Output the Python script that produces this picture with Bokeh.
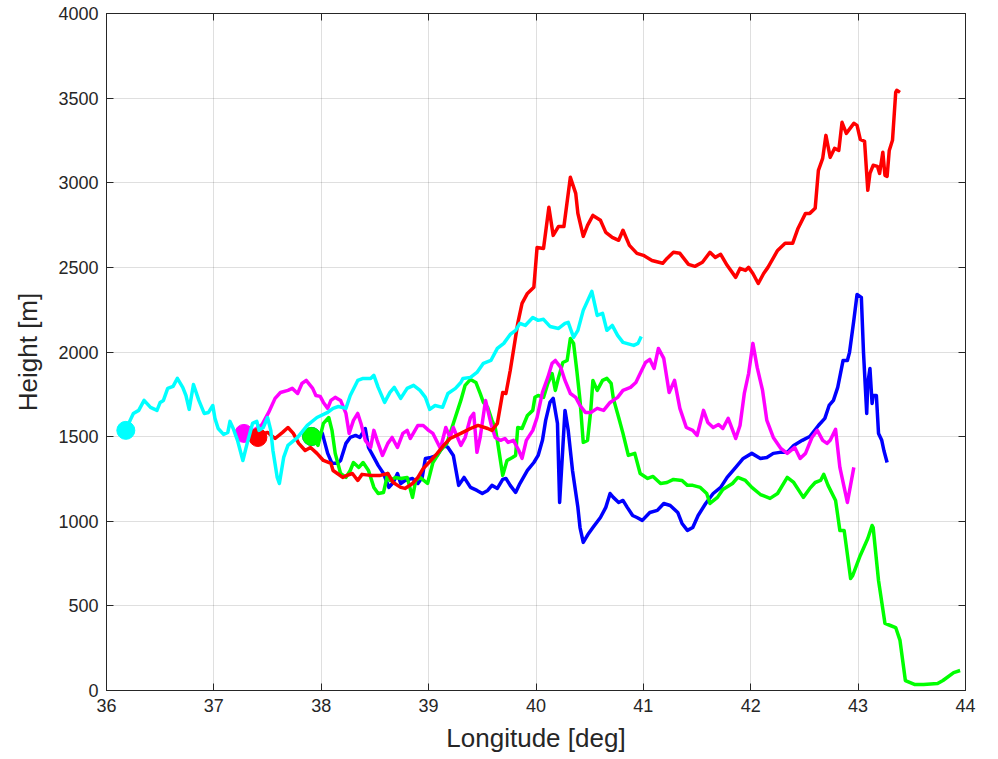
from bokeh.plotting import figure
from bokeh.models import LinearAxis, FixedTicker
from bokeh.embed import file_html
from bokeh.resources import INLINE

# ---- data ----
cyan_lon = [36.18, 36.22, 36.25, 36.30, 36.35, 36.41, 36.47, 36.50, 36.53, 36.57, 36.62, 36.66, 36.71, 36.74, 36.77, 36.81, 36.86, 36.91, 36.95, 36.99, 37.01, 37.04, 37.09, 37.13, 37.15, 37.18, 37.22, 37.27, 37.31, 37.36, 37.40, 37.42, 37.46, 37.50, 37.53, 37.55, 37.59, 37.61, 37.65, 37.69, 37.78, 37.87, 37.96, 38.06, 38.11, 38.16, 38.23, 38.27, 38.34, 38.39, 38.46, 38.49, 38.53, 38.59, 38.64, 38.68, 38.74, 38.80, 38.86, 38.92, 38.97, 39.01, 39.06, 39.13, 39.18, 39.25, 39.30, 39.32, 39.39, 39.45, 39.51, 39.58, 39.64, 39.70, 39.76, 39.81, 39.85, 39.90, 39.97, 40.02, 40.07, 40.13, 40.21, 40.27, 40.30, 40.35, 40.39, 40.44, 40.52, 40.57, 40.62, 40.66, 40.71, 40.76, 40.81, 40.91, 40.95, 40.98]
cyan_h = [1537, 1596, 1637, 1655, 1714, 1673, 1655, 1702, 1714, 1785, 1797, 1844, 1791, 1743, 1661, 1808, 1714, 1637, 1643, 1684, 1608, 1548, 1513, 1525, 1590, 1548, 1478, 1359, 1460, 1578, 1590, 1537, 1554, 1613, 1537, 1418, 1259, 1223, 1377, 1448, 1495, 1566, 1613, 1643, 1667, 1678, 1667, 1743, 1832, 1844, 1844, 1862, 1791, 1702, 1761, 1791, 1726, 1785, 1803, 1773, 1732, 1661, 1684, 1673, 1755, 1785, 1820, 1844, 1850, 1879, 1933, 1950, 2021, 2051, 2104, 2128, 2169, 2157, 2204, 2187, 2193, 2151, 2139, 2169, 2175, 2086, 2128, 2246, 2358, 2216, 2228, 2128, 2157, 2098, 2057, 2039, 2051, 2092]

red_lon = [37.41, 37.46, 37.50, 37.57, 37.64, 37.69, 37.74, 37.79, 37.85, 37.90, 37.96, 38.02, 38.09, 38.11, 38.15, 38.20, 38.24, 38.29, 38.34, 38.38, 38.46, 38.55, 38.62, 38.67, 38.74, 38.78, 38.85, 38.90, 38.95, 39.02, 39.08, 39.14, 39.20, 39.30, 39.39, 39.46, 39.55, 39.59, 39.64, 39.69, 39.72, 39.76, 39.79, 39.83, 39.87, 39.92, 39.98, 40.01, 40.07, 40.12, 40.16, 40.21, 40.26, 40.32, 40.37, 40.39, 40.44, 40.48, 40.53, 40.60, 40.65, 40.71, 40.77, 40.81, 40.87, 40.94, 41.00, 41.08, 41.18, 41.22, 41.28, 41.34, 41.42, 41.48, 41.55, 41.62, 41.67, 41.72, 41.78, 41.86, 41.90, 41.95, 41.98, 42.02, 42.07, 42.12, 42.16, 42.25, 42.32, 42.39, 42.44, 42.51, 42.55, 42.60, 42.63, 42.67, 42.70, 42.74, 42.78, 42.82, 42.85, 42.89, 42.96, 42.99, 43.02, 43.06, 43.09, 43.11, 43.14, 43.18, 43.20, 43.23, 43.25, 43.27, 43.29, 43.32, 43.35, 43.36, 43.39]
red_h = [1495, 1519, 1525, 1489, 1525, 1554, 1519, 1460, 1418, 1436, 1401, 1359, 1342, 1300, 1282, 1259, 1271, 1282, 1241, 1277, 1271, 1271, 1282, 1229, 1200, 1194, 1223, 1259, 1312, 1359, 1401, 1448, 1489, 1519, 1548, 1566, 1548, 1537, 1578, 1761, 1755, 1891, 2009, 2169, 2287, 2346, 2382, 2618, 2612, 2855, 2689, 2742, 2742, 3032, 2937, 2819, 2683, 2748, 2807, 2778, 2707, 2677, 2660, 2719, 2630, 2583, 2571, 2541, 2524, 2553, 2589, 2583, 2518, 2506, 2530, 2589, 2559, 2577, 2512, 2441, 2494, 2482, 2500, 2464, 2405, 2464, 2500, 2600, 2642, 2642, 2730, 2819, 2819, 2849, 3073, 3144, 3280, 3150, 3203, 3191, 3357, 3292, 3351, 3339, 3256, 3245, 2955, 3055, 3103, 3097, 3055, 3180, 3044, 3038, 3191, 3251, 3534, 3546, 3534]

magenta_lon = [37.28, 37.37, 37.45, 37.51, 37.57, 37.62, 37.69, 37.73, 37.78, 37.82, 37.86, 37.92, 37.95, 37.99, 38.02, 38.06, 38.09, 38.13, 38.18, 38.23, 38.26, 38.30, 38.34, 38.37, 38.41, 38.46, 38.49, 38.52, 38.57, 38.62, 38.66, 38.71, 38.76, 38.80, 38.83, 38.90, 38.95, 39.00, 39.04, 39.11, 39.16, 39.20, 39.23, 39.30, 39.34, 39.39, 39.42, 39.45, 39.48, 39.53, 39.58, 39.62, 39.67, 39.71, 39.74, 39.79, 39.84, 39.87, 39.91, 39.97, 40.01, 40.06, 40.11, 40.15, 40.18, 40.23, 40.27, 40.32, 40.37, 40.41, 40.46, 40.51, 40.57, 40.63, 40.69, 40.76, 40.81, 40.88, 40.93, 40.97, 41.02, 41.06, 41.10, 41.14, 41.19, 41.24, 41.29, 41.34, 41.40, 41.46, 41.50, 41.56, 41.60, 41.65, 41.70, 41.74, 41.79, 41.86, 41.90, 41.94, 41.98, 42.02, 42.06, 42.11, 42.15, 42.21, 42.28, 42.34, 42.41, 42.46, 42.51, 42.57, 42.62, 42.67, 42.71, 42.74, 42.79, 42.83, 42.90, 42.96]
magenta_h = [1519, 1537, 1572, 1643, 1726, 1761, 1773, 1785, 1755, 1814, 1832, 1785, 1743, 1738, 1702, 1667, 1714, 1732, 1714, 1637, 1519, 1596, 1637, 1578, 1478, 1436, 1537, 1478, 1389, 1460, 1495, 1436, 1519, 1537, 1489, 1566, 1566, 1537, 1519, 1430, 1554, 1495, 1554, 1448, 1495, 1613, 1637, 1407, 1495, 1714, 1578, 1495, 1478, 1489, 1466, 1478, 1418, 1371, 1478, 1537, 1613, 1761, 1850, 1933, 1950, 1909, 1832, 1755, 1732, 1684, 1643, 1643, 1667, 1655, 1702, 1732, 1773, 1791, 1820, 1873, 1938, 1956, 1903, 2021, 1962, 1761, 1832, 1667, 1554, 1537, 1507, 1655, 1584, 1554, 1572, 1548, 1608, 1489, 1566, 1755, 1873, 2051, 1909, 1773, 1596, 1495, 1430, 1401, 1436, 1371, 1401, 1495, 1537, 1478, 1460, 1478, 1543, 1318, 1111, 1318]

green_lon = [37.91, 37.97, 38.02, 38.07, 38.10, 38.13, 38.18, 38.23, 38.27, 38.30, 38.35, 38.39, 38.44, 38.49, 38.53, 38.58, 38.62, 38.64, 38.69, 38.74, 38.80, 38.85, 38.88, 38.92, 38.99, 39.04, 39.11, 39.17, 39.23, 39.30, 39.34, 39.39, 39.44, 39.48, 39.51, 39.55, 39.59, 39.62, 39.64, 39.69, 39.73, 39.78, 39.81, 39.83, 39.87, 39.92, 39.97, 39.99, 40.02, 40.07, 40.11, 40.15, 40.18, 40.21, 40.25, 40.29, 40.32, 40.35, 40.38, 40.41, 40.44, 40.48, 40.51, 40.53, 40.57, 40.62, 40.66, 40.70, 40.72, 40.77, 40.81, 40.86, 40.92, 40.97, 41.04, 41.09, 41.16, 41.22, 41.28, 41.36, 41.41, 41.46, 41.53, 41.59, 41.62, 41.69, 41.74, 41.83, 41.88, 41.95, 42.01, 42.09, 42.18, 42.25, 42.34, 42.40, 42.49, 42.55, 42.60, 42.65, 42.68, 42.72, 42.79, 42.83, 42.87, 42.93, 42.95, 43.02, 43.09, 43.13, 43.14, 43.19, 43.25, 43.30, 43.35, 43.39, 43.44, 43.53, 43.61, 43.74, 43.79, 43.89, 43.95]
green_h = [1501, 1448, 1578, 1613, 1537, 1401, 1282, 1259, 1300, 1347, 1318, 1347, 1300, 1200, 1164, 1170, 1282, 1241, 1259, 1253, 1259, 1141, 1241, 1259, 1223, 1347, 1418, 1460, 1578, 1714, 1803, 1838, 1820, 1755, 1702, 1673, 1596, 1554, 1478, 1271, 1359, 1377, 1389, 1554, 1548, 1625, 1655, 1732, 1743, 1732, 1814, 1873, 1773, 1850, 1938, 1950, 2080, 2051, 1891, 1714, 1466, 1478, 1655, 1832, 1773, 1832, 1844, 1814, 1726, 1613, 1519, 1389, 1401, 1282, 1253, 1265, 1223, 1229, 1247, 1241, 1212, 1212, 1200, 1164, 1105, 1141, 1188, 1223, 1259, 1241, 1200, 1158, 1135, 1164, 1259, 1229, 1141, 1194, 1229, 1241, 1277, 1212, 1123, 946, 946, 662, 680, 798, 898, 975, 963, 650, 396, 384, 372, 296, 59, 35, 35, 41, 59, 106, 118]

blue_lon = [37.91, 38.01, 38.06, 38.10, 38.15, 38.18, 38.23, 38.27, 38.32, 38.36, 38.41, 38.44, 38.49, 38.53, 38.58, 38.63, 38.67, 38.71, 38.74, 38.78, 38.85, 38.90, 38.94, 38.97, 39.02, 39.08, 39.14, 39.18, 39.23, 39.28, 39.33, 39.39, 39.45, 39.50, 39.55, 39.59, 39.64, 39.69, 39.72, 39.76, 39.81, 39.85, 39.92, 39.98, 40.02, 40.06, 40.09, 40.13, 40.16, 40.20, 40.22, 40.25, 40.27, 40.30, 40.34, 40.39, 40.41, 40.44, 40.49, 40.53, 40.60, 40.65, 40.69, 40.72, 40.77, 40.81, 40.85, 40.90, 40.94, 40.99, 41.06, 41.13, 41.19, 41.25, 41.32, 41.36, 41.41, 41.46, 41.51, 41.58, 41.65, 41.72, 41.78, 41.86, 41.93, 42.01, 42.09, 42.15, 42.21, 42.27, 42.34, 42.40, 42.48, 42.55, 42.63, 42.69, 42.73, 42.77, 42.81, 42.86, 42.90, 42.92, 42.96, 42.99, 43.03, 43.05, 43.08, 43.09, 43.11, 43.13, 43.14, 43.17, 43.19, 43.22, 43.24, 43.27]
blue_h = [1501, 1519, 1401, 1342, 1342, 1359, 1460, 1495, 1507, 1495, 1548, 1436, 1377, 1330, 1282, 1200, 1229, 1282, 1223, 1241, 1253, 1223, 1259, 1371, 1377, 1389, 1448, 1436, 1389, 1212, 1259, 1200, 1182, 1164, 1182, 1212, 1194, 1247, 1253, 1212, 1170, 1223, 1300, 1347, 1389, 1478, 1596, 1702, 1726, 1578, 1111, 1436, 1655, 1537, 1300, 1082, 963, 875, 928, 963, 1022, 1082, 1164, 1141, 1111, 1123, 1082, 1034, 1022, 1005, 1052, 1064, 1105, 1093, 1052, 987, 946, 963, 1034, 1105, 1164, 1200, 1259, 1318, 1371, 1401, 1371, 1377, 1401, 1407, 1407, 1448, 1478, 1501, 1566, 1608, 1684, 1714, 1791, 1950, 1950, 1998, 2187, 2340, 2323, 1998, 1637, 1814, 1903, 1696, 1743, 1743, 1519, 1478, 1418, 1347]

x_ticks = [36, 37, 38, 39, 40, 41, 42, 43, 44]
y_ticks = [0, 500, 1000, 1500, 2000, 2500, 3000, 3500, 4000]

FONT = "Liberation Sans"
AX = "#262626"

p = figure(width=998, height=759, x_range=(36, 44), y_range=(0, 4000),
           output_backend="svg", toolbar_location=None,
           min_border_left=106, min_border_right=33, min_border_top=13, min_border_bottom=69)
p.background_fill_color = "white"
p.border_fill_color = "white"
p.outline_line_color = AX
p.outline_line_width = 1

for ax in (p.xaxis[0], p.yaxis[0]):
    ax.major_tick_in = 7
    ax.major_tick_out = 0
    ax.minor_tick_line_color = None
    ax.axis_line_color = AX
    ax.major_tick_line_color = AX
    ax.major_label_text_font = FONT
    ax.major_label_text_font_size = "18px"
    ax.major_label_text_color = AX
    ax.axis_label_text_font = FONT
    ax.axis_label_text_font_size = "26px"
    ax.axis_label_text_font_style = "normal"
    ax.axis_label_text_color = AX

p.xaxis.ticker = FixedTicker(ticks=x_ticks)
p.yaxis.ticker = FixedTicker(ticks=y_ticks)
p.xaxis.axis_label = "Longitude [deg]"
p.yaxis.axis_label = "Height [m]"
p.xaxis.major_label_standoff = 8
p.yaxis.major_label_standoff = 8
p.xaxis.axis_label_standoff = 8
p.yaxis.axis_label_standoff = 12

# box axes (top/right) with inward ticks and no labels
for loc, tks in (("above", x_ticks), ("right", y_ticks)):
    a = LinearAxis(ticker=FixedTicker(ticks=tks),
                   major_tick_in=7, major_tick_out=0, minor_tick_line_color=None,
                   axis_line_color=AX, major_tick_line_color=AX,
                   major_label_overrides={t: "" for t in tks},
                   major_label_text_font_size="10px", major_label_standoff=0)
    p.add_layout(a, loc)

p.xgrid.ticker = FixedTicker(ticks=x_ticks)
p.ygrid.ticker = FixedTicker(ticks=y_ticks)
p.grid.grid_line_color = AX
p.grid.grid_line_alpha = 0.15

LW = 3.5
MS = 18
series = [
    (blue_lon, blue_h, "#0000ff"),
    (green_lon, green_h, "#00ff00"),
    (magenta_lon, magenta_h, "#ff00ff"),
    (red_lon, red_h, "#ff0000"),
    (cyan_lon, cyan_h, "#00ffff"),
]
for lon, h, c in series:
    p.line(lon, h, line_color=c, line_width=LW, line_join="round")
    p.scatter([lon[0]], [h[0]], size=MS, fill_color=c, line_color=c)

open("out.html", "w").write(file_html(p, INLINE))
